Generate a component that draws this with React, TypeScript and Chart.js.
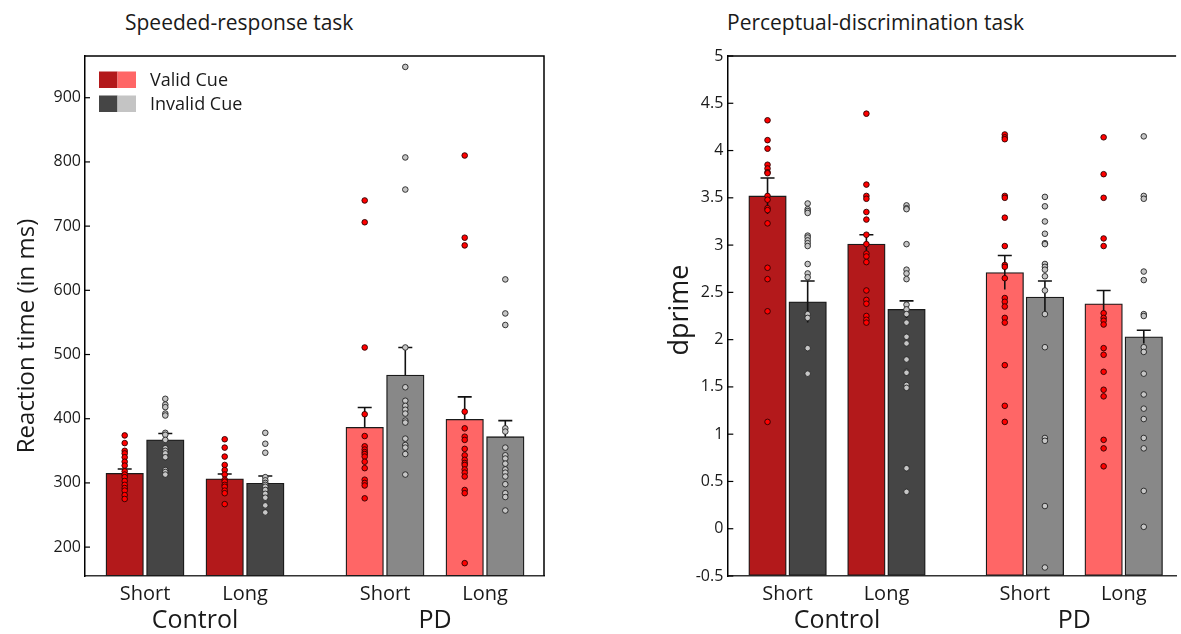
import React, { useEffect, useRef } from "react";
import { Chart, registerables } from "chart.js";

Chart.register(...registerables);

const FONT = "'Open Sans', 'Noto Sans', sans-serif";
Chart.defaults.font.family = FONT;
Chart.defaults.color = "#1a1a1a";

// ---------- categories ----------
const POS = [0, 1, 2.4, 3.4];
const COND_LABELS = ["Short", "Long", "Short", "Long"];
const GROUP_POS = [0.5, 2.9];
const GROUP_LABELS = ["Control", "PD"];
const CUE_LABELS = ["Valid Cue", "Invalid Cue"];
const PANEL_TITLES = ["Speeded-response task", "Perceptual-discrimination task"];
const Y_TITLES = ["Reaction time (in ms)", "dprime"];

// ---------- colours ----------
const VALID_COLORS = ["#B3191B", "#B3191B", "#FF6666", "#FF6666"];
const INVALID_COLORS = ["#454545", "#454545", "#888888", "#888888"];
const VALID_DOT = "#FF0000";
const INVALID_DOT = "#C6C6C6";
const LEGEND_VALID = ["#B3191B", "#FF6666"];
const LEGEND_INVALID = ["#454545", "#C4C4C4"];

// ---------- Speeded-response task (reaction time, ms) ----------
const RT_TICKS = [200, 300, 400, 500, 600, 700, 800, 900];
const RT_VALID_MEAN = [315, 306.5, 386.5, 399];
const RT_VALID_SE = [6.6, 7.3, 31, 35];
const RT_INVALID_MEAN = [367, 299.5, 468, 372];
const RT_INVALID_SE = [10, 11.3, 43, 25];
const RT_VALID_DOTS = [
  [374, 362, 350, 346, 340, 333, 327, 318, 313, 309, 303, 297, 292, 288, 281, 275],
  [368, 355, 341, 328, 320, 313, 305, 302, 297, 294, 288, 284, 267],
  [740, 706, 511, 407, 373, 357, 352, 348, 345, 341, 333, 323, 305, 300, 296, 276],
  [810, 682, 670, 411, 385, 372, 367, 353, 343, 336, 331, 328, 321, 316, 310, 289, 284, 175],
];
const RT_INVALID_DOTS = [
  [431, 422, 418, 408, 405, 378, 375, 367, 354, 350, 346, 340, 320, 317, 313],
  [378, 361, 347, 309, 304, 300, 297, 294, 289, 283, 277, 265, 254],
  [948, 807, 757, 511, 449, 428, 420, 414, 408, 397, 394, 369, 359, 355, 345, 313],
  [617, 564, 546, 385, 380, 355, 343, 338, 330, 321, 316, 310, 298, 284, 278, 257],
];

// ---------- Perceptual-discrimination task (dprime) ----------
const DP_TICKS = [-0.5, 0, 0.5, 1, 1.5, 2, 2.5, 3, 3.5, 4, 4.5, 5];
const DP_VALID_MEAN = [3.52, 3.01, 2.71, 2.38];
const DP_VALID_SE = [0.19, 0.1, 0.18, 0.14];
const DP_INVALID_MEAN = [2.4, 2.32, 2.45, 2.03];
const DP_INVALID_SE = [0.22, 0.09, 0.17, 0.07];
const DP_VALID_DOTS = [
  [4.32, 4.11, 4.02, 3.85, 3.81, 3.77, 3.76, 3.52, 3.48, 3.39, 3.37, 3.23, 2.76, 2.64, 2.3, 1.13],
  [4.39, 3.64, 3.52, 3.49, 3.35, 3.27, 3.11, 3.01, 2.91, 2.88, 2.82, 2.52, 2.42, 2.38, 2.25, 2.21, 2.18],
  [4.17, 4.14, 4.12, 3.52, 3.5, 3.29, 2.99, 2.79, 2.77, 2.65, 2.44, 2.4, 2.35, 2.23, 2.18, 1.73, 1.3, 1.13],
  [4.14, 3.75, 3.5, 3.07, 2.99, 2.28, 2.23, 2.2, 2.16, 1.91, 1.84, 1.66, 1.47, 1.4, 0.94, 0.85, 0.66],
];
const DP_INVALID_DOTS = [
  [3.44, 3.38, 3.36, 3.34, 3.1, 3.08, 3.05, 3.02, 2.99, 2.8, 2.7, 2.66, 2.27, 2.23, 1.91, 1.64],
  [3.42, 3.39, 3.38, 3.01, 2.74, 2.7, 2.64, 2.37, 2.32, 2.27, 2.18, 2.03, 1.96, 1.79, 1.66, 1.65, 1.52, 1.49, 0.64, 0.39],
  [3.51, 3.41, 3.25, 3.12, 3.02, 3.01, 2.8, 2.77, 2.74, 2.67, 2.52, 2.27, 1.92, 0.96, 0.93, 0.24, -0.41],
  [4.15, 3.52, 3.49, 2.72, 2.63, 2.27, 2.25, 1.92, 1.87, 1.64, 1.42, 1.27, 1.16, 0.96, 0.85, 0.4, 0.02],
];

const OFFSET = 0.203;

const decorPlugin = {
  id: "decor",
  afterDatasetDraw(chart: any, args: any, opts: any) {
    if (args.index !== 0) return;
    const { ctx } = chart;
    const xs = chart.scales.x;
    const ys = chart.scales.y;
    ctx.save();
    ctx.strokeStyle = "#111";
    ctx.lineWidth = 1.6;
    for (const e of opts.errors) {
      const px = xs.getPixelForValue(e.x);
      const top = ys.getPixelForValue(e.mean + e.se);
      const bot = ys.getPixelForValue(opts.symmetric ? e.mean - e.se : e.mean);
      ctx.beginPath();
      ctx.moveTo(px, bot);
      ctx.lineTo(px, top);
      ctx.moveTo(px - 7, top);
      ctx.lineTo(px + 7, top);
      ctx.stroke();
    }
    ctx.restore();
  },
  afterDraw(chart: any, _args: any, opts: any) {
    const { ctx, chartArea: a } = chart;
    ctx.save();
    ctx.strokeStyle = "#000";
    ctx.lineWidth = 1.5;
    ctx.beginPath();
    ctx.moveTo(a.left, a.top);
    ctx.lineTo(a.right, a.top);
    if (opts.rightBorder) ctx.lineTo(a.right, a.bottom);
    ctx.stroke();
    const ys = chart.scales.y;
    ctx.lineWidth = 1.2;
    for (const t of ys.ticks) {
      const py = ys.getPixelForValue(t.value);
      ctx.beginPath();
      ctx.moveTo(a.left, py);
      ctx.lineTo(a.left + opts.tickLen, py);
      ctx.stroke();
    }
    // rotated y-axis title
    ctx.save();
    ctx.fillStyle = "#1a1a1a";
    ctx.font = `${opts.yTitleSize}px ${FONT}`;
    ctx.textAlign = "center";
    ctx.textBaseline = "middle";
    ctx.translate(opts.yTitleX, (a.top + a.bottom) / 2 + opts.yTitleShift);
    ctx.rotate(-Math.PI / 2);
    ctx.fillText(opts.yTitle, 0, 0);
    ctx.restore();
    if (opts.legend) {
      const sw = 18.5;
      const sh = 16.5;
      const lx = a.left + 14;
      const rows = [
        { label: CUE_LABELS[0], c: LEGEND_VALID },
        { label: CUE_LABELS[1], c: LEGEND_INVALID },
      ];
      ctx.font = `18px ${FONT}`;
      ctx.textBaseline = "middle";
      ctx.textAlign = "left";
      rows.forEach((r, i) => {
        const y = a.top + 15.5 + i * 24;
        ctx.fillStyle = r.c[0];
        ctx.fillRect(lx, y, sw, sh);
        ctx.fillStyle = r.c[1];
        ctx.fillRect(lx + sw, y, sw, sh);
        ctx.fillStyle = "#1a1a1a";
        ctx.fillText(r.label, a.left + 65, y + sh / 2 + 1);
      });
    }
    ctx.restore();
  },
};

type PanelProps = {
  left: number;
  width: number;
  yMin: number;
  yMax: number;
  yTicks: number[];
  yTitle: string;
  yTitleSize: number;
  yTitleX: number;
  yTitleShift: number;
  axisWidth: number;
  padRight: number;
  xMin: number;
  xMax: number;
  validMean: number[];
  validSE: number[];
  invalidMean: number[];
  invalidSE: number[];
  validDots: number[][];
  invalidDots: number[][];
  legend: boolean;
  rightBorder: boolean;
  symmetric: boolean;
  tickLen: number;
};

function Panel(p: PanelProps) {
  const ref = useRef<HTMLCanvasElement | null>(null);
  useEffect(() => {
    if (!ref.current) return;
    const bars: any[] = [];
    const colors: string[] = [];
    const errors: any[] = [];
    const scatters: any[] = [];
    POS.forEach((pos, i) => {
      const xv = pos - OFFSET;
      const xi = pos + OFFSET;
      bars.push({ x: xv, y: p.validMean[i] });
      colors.push(VALID_COLORS[i]);
      bars.push({ x: xi, y: p.invalidMean[i] });
      colors.push(INVALID_COLORS[i]);
      errors.push({ x: xv, mean: p.validMean[i], se: p.validSE[i] });
      errors.push({ x: xi, mean: p.invalidMean[i], se: p.invalidSE[i] });
      scatters.push({
        type: "scatter",
        data: p.validDots[i].map((v) => ({ x: xv, y: v })),
        pointRadius: 2.8,
        pointBackgroundColor: VALID_DOT,
        pointBorderColor: "#2a0000",
        pointBorderWidth: 0.9,
        order: 0,
      });
      scatters.push({
        type: "scatter",
        data: p.invalidDots[i].map((v) => ({ x: xi, y: v })),
        pointRadius: 2.8,
        pointBackgroundColor: INVALID_DOT,
        pointBorderColor: "#222",
        pointBorderWidth: 0.9,
        order: 0,
      });
    });
    const chart = new Chart(ref.current, {
      type: "bar",
      data: {
        datasets: [
          {
            type: "bar",
            data: bars,
            backgroundColor: colors,
            borderColor: "#1a1a1a",
            borderWidth: 1.3,
            borderSkipped: false,
            barThickness: 37.5,
            base: p.yMin,
            order: 10,
          } as any,
          ...scatters,
        ],
      },
      options: {
        responsive: false,
        animation: false,
        devicePixelRatio: 1,
        events: [],
        layout: { padding: { top: 56, right: p.padRight, left: 0, bottom: 0 } },
        plugins: {
          legend: { display: false },
          title: { display: false },
          tooltip: { enabled: false },
          decor: {
            errors,
            symmetric: p.symmetric,
            rightBorder: p.rightBorder,
            legend: p.legend,
            tickLen: p.tickLen,
            yTitle: p.yTitle,
            yTitleSize: p.yTitleSize,
            yTitleX: p.yTitleX,
            yTitleShift: p.yTitleShift,
          },
        } as any,
        scales: {
          x: {
            type: "linear",
            offset: false,
            min: p.xMin,
            max: p.xMax,
            weight: 0,
            afterBuildTicks: (s: any) => {
              s.ticks = POS.map((v) => ({ value: v }));
            },
            afterFit: (s: any) => {
              s.height = 30;
            },
            ticks: {
              callback: (_v: any, i: number) => COND_LABELS[i],
              font: { size: 20 },
              color: "#1a1a1a",
              padding: 6,
              autoSkip: false,
              maxRotation: 0,
            },
            grid: { display: true, drawOnChartArea: false, drawTicks: false, offset: false },
            border: { color: "#333", width: 1.5 },
          },
          x2: {
            type: "linear",
            position: "bottom",
            offset: false,
            min: p.xMin,
            max: p.xMax,
            weight: 1,
            afterBuildTicks: (s: any) => {
              s.ticks = GROUP_POS.map((v) => ({ value: v }));
            },
            afterFit: (s: any) => {
              s.height = 28;
            },
            ticks: {
              callback: (_v: any, i: number) => GROUP_LABELS[i],
              font: { size: 25 },
              color: "#1a1a1a",
              padding: -8,
              autoSkip: false,
              maxRotation: 0,
            },
            grid: { display: false, offset: false },
            border: { display: false },
          },
          y: {
            type: "linear",
            min: p.yMin,
            max: p.yMax,
            afterBuildTicks: (s: any) => {
              s.ticks = p.yTicks.map((v) => ({ value: v }));
            },
            afterFit: (s: any) => {
              s.width = p.axisWidth;
            },
            ticks: {
              font: { size: 16 },
              color: "#1a1a1a",
              padding: 4,
              callback: (v: any) => String(v),
            },
            grid: { display: true, drawOnChartArea: false, drawTicks: false },
            border: { color: "#000", width: 1.5 },
            title: { display: false },
          },
        } as any,
      },
      plugins: [decorPlugin as any],
    });
    return () => chart.destroy();
  }, []);
  return (
    <canvas
      ref={ref}
      width={p.width}
      height={634}
      style={{ position: "absolute", left: p.left, top: 0, width: p.width, height: 634 }}
    />
  );
}

export default function App() {
  return (
    <div
      style={{
        position: "absolute",
        left: 0,
        top: 0,
        width: 1181,
        height: 634,
        background: "#fff",
        fontFamily: FONT,
        color: "#1a1a1a",
        overflow: "hidden",
      }}
    >
      <div style={{ position: "absolute", left: 125, top: 8, fontSize: 21, whiteSpace: "nowrap" }}>
        {PANEL_TITLES[0]}
      </div>
      <div style={{ position: "absolute", left: 727, top: 8, fontSize: 21, whiteSpace: "nowrap" }}>
        {PANEL_TITLES[1]}
      </div>
      <Panel
        left={0}
        width={560}
        yMin={155}
        yMax={965}
        yTicks={RT_TICKS}
        yTitle={Y_TITLES[0]}
        yTitleSize={24}
        yTitleX={27}
        yTitleShift={20}
        axisWidth={85}
        padRight={16}
        xMin={-0.6}
        xMax={3.99}
        validMean={RT_VALID_MEAN}
        validSE={RT_VALID_SE}
        invalidMean={RT_INVALID_MEAN}
        invalidSE={RT_INVALID_SE}
        validDots={RT_VALID_DOTS}
        invalidDots={RT_INVALID_DOTS}
        legend={true}
        rightBorder={true}
        symmetric={false}
        tickLen={5}
      />
      <Panel
        left={660}
        width={521}
        yMin={-0.5}
        yMax={5}
        yTicks={DP_TICKS}
        yTitle={Y_TITLES[1]}
        yTitleSize={27}
        yTitleX={20}
        yTitleShift={-6}
        axisWidth={67.3}
        padRight={0}
        xMin={-0.61}
        xMax={3.93}
        validMean={DP_VALID_MEAN}
        validSE={DP_VALID_SE}
        invalidMean={DP_INVALID_MEAN}
        invalidSE={DP_INVALID_SE}
        validDots={DP_VALID_DOTS}
        invalidDots={DP_INVALID_DOTS}
        legend={false}
        rightBorder={false}
        symmetric={true}
        tickLen={6}
      />
    </div>
  );
}
